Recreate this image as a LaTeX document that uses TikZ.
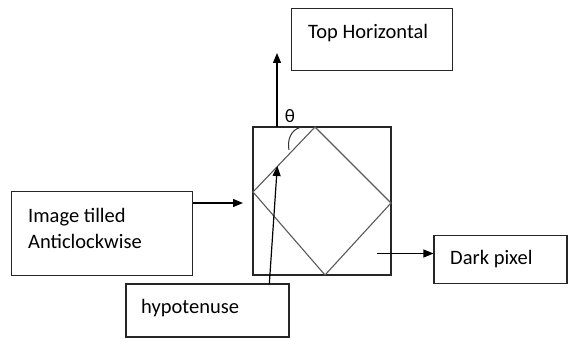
\documentclass[tikz,border=0pt]{standalone}
\usepackage{fontspec}
\setmainfont{Carlito}
\usetikzlibrary{arrows.meta}
\begin{document}
\begin{tikzpicture}[x=1pt,y=-1pt,
  boxstyle/.style={draw=black!85,line width=1.1pt,inner sep=0pt,minimum width=#1},
  lbl/.style={anchor=west,inner sep=0pt,font=\fontsize{20.5}{24}\selectfont},
  arr/.style={draw=black,line width=1.2pt,-{Triangle[length=10pt,width=8pt]}},
  dia/.style={draw=black!65,line width=1.1pt}]
\useasboundingbox (0,0) rectangle (572,339);
% boxes
\node[boxstyle=138pt,minimum height=148pt] (sq) at (322,201) {};
\node[boxstyle=161pt,minimum height=62pt] (top) at (372.2,39.5) {};
\node[boxstyle=181pt,minimum height=84pt] (img) at (102.2,233.7) {};
\node[boxstyle=133pt,minimum height=48pt] (dark) at (500.5,259.5) {};
\node[boxstyle=163pt,minimum height=53pt] (hyp) at (207.5,310.5) {};
% texts
\node[lbl] (ttop) at (308,33) {Top Horizontal};
\node[lbl] (timg1) at (28,217) {Image tilled};
\node[lbl] (timg2) at (28,241) {Anticlockwise};
\node[lbl] (tdark) at (450,259) {Dark pixel};
\node[lbl] (thyp) at (141,308) {hypotenuse};
\node[inner sep=0pt,font=\fontsize{19}{20}\selectfont] (theta) at (290,116) {θ};
% diamond
\coordinate (dt) at (315,127);
\coordinate (dr) at (391,203);
\coordinate (db) at (325,275);
\coordinate (dl) at (253,192);
\draw[dia] (dt) -- (dr) -- (db) -- (dl) -- cycle;
% angle arc
\draw[black!80,line width=1pt] (300,127.5) .. controls (291,130) and (287,140) .. (289,150);
% arrows
\coordinate (upbase) at (277,127);
\coordinate (uptip) at (277,53);
\draw[arr] (upbase) -- (uptip);
\coordinate (a1) at (243,203);
\draw[arr] (img.east |- a1) -- (a1);
\coordinate (s2) at (377,253.5);
\draw[arr] (s2) -- (dark.west |- s2);
\coordinate (htip) at (277.3,166);
\coordinate (hbase) at (269.3,284);
\draw[arr] (hbase) -- (htip);
\end{tikzpicture}
\end{document}
